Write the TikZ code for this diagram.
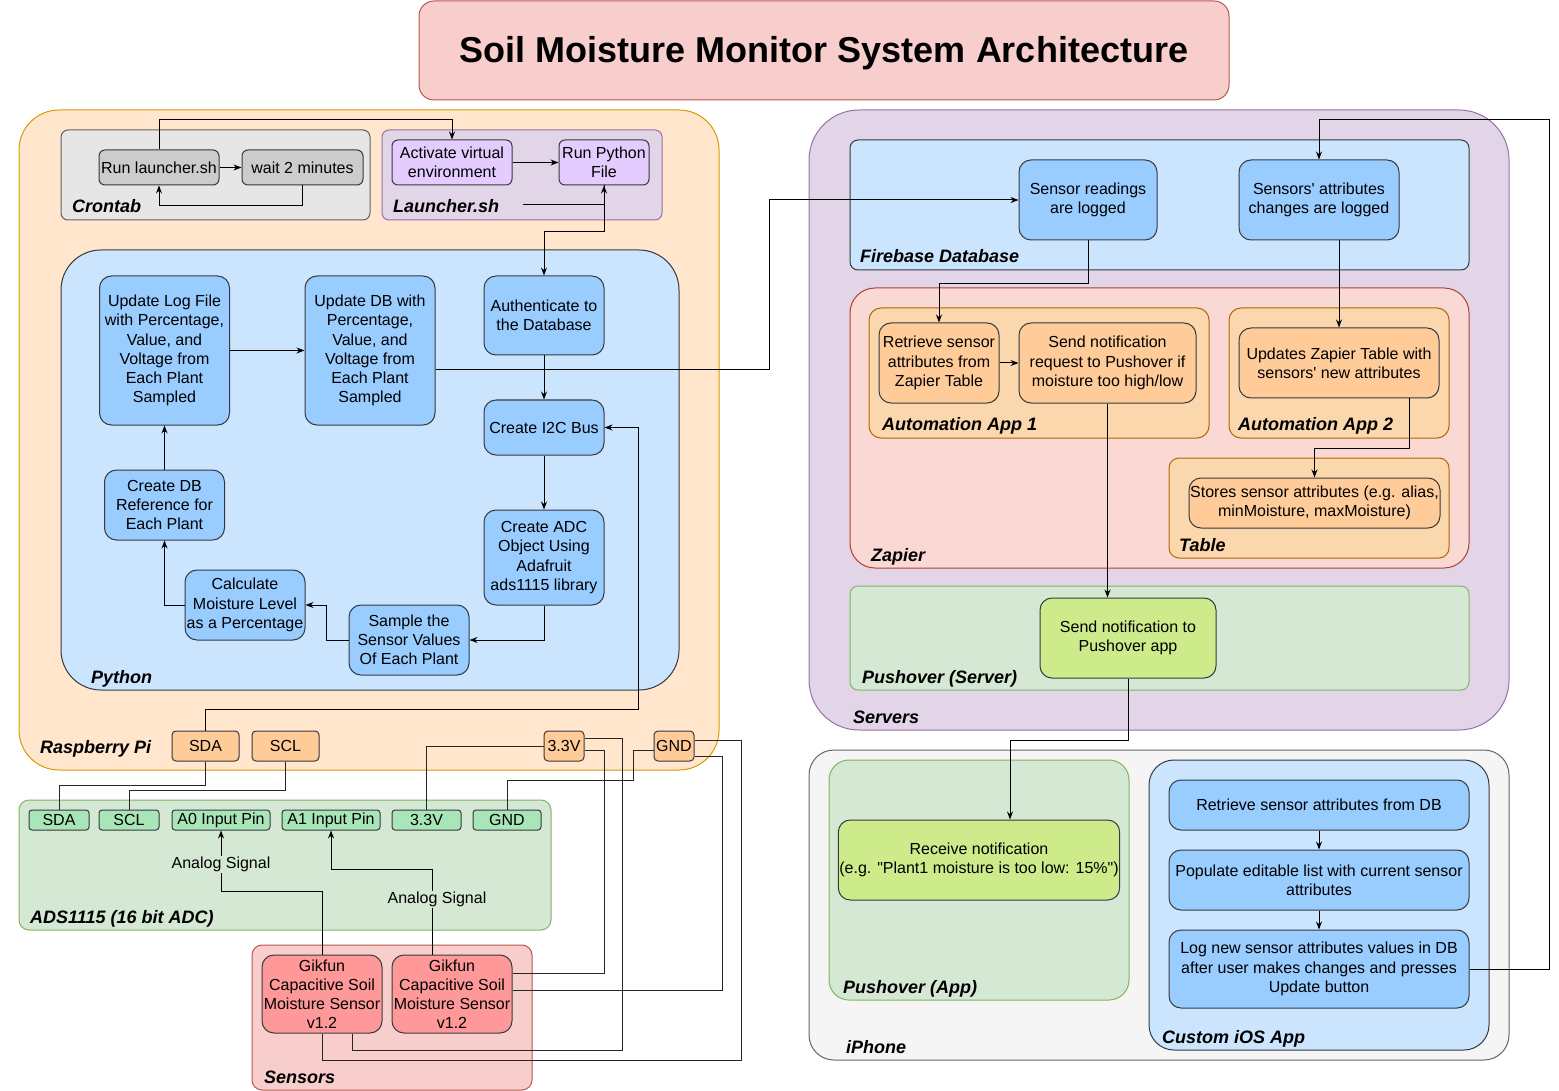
\documentclass[tikz,border=0pt]{standalone}
\usepackage{fontspec}
\setmainfont{Liberation Sans}[Ligatures=TeXOff]
\usetikzlibrary{arrows.meta}

\definecolor{cTitleFill}{HTML}{F8CECC}
\definecolor{cTitleLine}{HTML}{B85450}
\definecolor{cRpiFill}{HTML}{FFE6CC}
\definecolor{cRpiLine}{HTML}{D79B00}
\definecolor{cCronFill}{HTML}{E6E6E6}
\definecolor{cCronNode}{HTML}{CCCCCC}
\definecolor{cLnchFill}{HTML}{E1D5E7}
\definecolor{cLnchLine}{HTML}{9673A6}
\definecolor{cLnchNode}{HTML}{E5CCFF}
\definecolor{cBlueFill}{HTML}{CCE5FF}
\definecolor{cBlueNode}{HTML}{99CCFF}
\definecolor{cDark}{HTML}{36393D}
\definecolor{cPin}{HTML}{FFCC99}
\definecolor{cGreenFill}{HTML}{D5E8D4}
\definecolor{cGreenLine}{HTML}{82B366}
\definecolor{cAdsPin}{HTML}{A8E6B8}
\definecolor{cSensNode}{HTML}{FF9999}
\definecolor{cZapFill}{HTML}{FAD9D5}
\definecolor{cZapLine}{HTML}{AE4132}
\definecolor{cAutoFill}{HTML}{FAD7AC}
\definecolor{cAutoLine}{HTML}{B46504}
\definecolor{cPushNode}{HTML}{CDEB8B}
\definecolor{cPhoneFill}{HTML}{F5F5F5}
\definecolor{cPhoneLine}{HTML}{666666}

\newcommand\bodyfnt{\fontsize{16}{19.2}\selectfont}
\newcommand\lblfnt{\fontsize{18}{21.6}\selectfont\bfseries\itshape}

\tikzset{
  sz/.style 2 args={minimum width=#1pt,minimum height=#2pt},
  box/.style={draw=cDark,line width=1pt,rounded corners=12pt,align=center,inner sep=1pt,font=\bodyfnt},
  cronnode/.style={box,fill=cCronNode,rounded corners=6pt},
  lnchnode/.style={box,fill=cLnchNode,rounded corners=6pt},
  pynode/.style={box,fill=cBlueNode},
  pin/.style={box,fill=cPin,rounded corners=4pt},
  adspin/.style={box,fill=cAdsPin,rounded corners=3pt},
  sensnode/.style={box,fill=cSensNode},
  zapnode/.style={box,fill=cPin},
  pushnode/.style={box,fill=cPushNode},
  grp/.style={line width=1pt},
  grplabel/.style={anchor=base west,inner sep=0pt,yshift=-2pt,font=\lblfnt},
  siglabel/.style={fill=cGreenFill,inner sep=1pt,font=\bodyfnt},
  flow/.style={line width=1pt,-{Stealth[length=8pt,width=6pt]}},
  wire/.style={line width=1pt,draw=black!85}
}

\begin{document}
\begin{tikzpicture}[x=1pt,y=-1pt]
\useasboundingbox (0,0) rectangle (1559,1091);

\node[box,fill=cTitleFill,draw=cTitleLine,rounded corners=15pt,sz={810}{99}] (title) at (824,50.5) {};
\node[inner sep=0pt,font=\fontsize{36}{40}\selectfont\bfseries] (titletext) at ([yshift=-3pt]title.center) {Soil Moisture Monitor System Architecture};

% raspberry pi side
\draw[grp,fill=cRpiFill,draw=cRpiLine,rounded corners=40pt] (19,110) rectangle (719,770);
\node[grplabel] (lblrpi) at (40,751) {Raspberry Pi};

\draw[grp,fill=cCronFill,draw=cDark!80,rounded corners=7pt] (61,130) rectangle (370,220);
\node[grplabel] (lblcron) at (72,211) {Crontab};
\node[cronnode,sz={120}{35}] (runsh) at (159,167.5) {Run launcher.sh};
\node[cronnode,sz={121}{35}] (wait) at (302.5,167.5) {wait 2 minutes};

\draw[grp,fill=cLnchFill,draw=cLnchLine,rounded corners=7pt] (382,130) rectangle (662,220);
\node[grplabel] (lbllnch) at (393,211) {Launcher.sh};
\node[lnchnode,sz={120}{45}] (activate) at (452,162.5) {Activate virtual\\environment};
\node[lnchnode,sz={90}{45}] (runpy) at (604,162.5) {Run Python\\File};
\coordinate (lnchend) at (523,205);

\draw[grp,fill=cBlueFill,draw=cDark,rounded corners=40pt] (61,250) rectangle (679,690);
\node[grplabel] (lblpy) at (91,681) {Python};
\node[pynode,sz={130}{149}] (updlog) at (164.5,350.5) {Update Log File\\with Percentage,\\Value, and\\Voltage from\\Each Plant\\Sampled};
\node[pynode,sz={130}{149}] (upddb) at (370,350.5) {Update DB with\\Percentage,\\Value, and\\Voltage from\\Each Plant\\Sampled};
\node[pynode,sz={120}{79}] (auth) at (544,315.5) {Authenticate to\\the Database};
\node[pynode,sz={120}{55}] (i2c) at (544,427.5) {Create I2C Bus};
\node[pynode,sz={120}{95}] (adc) at (544,557.5) {Create ADC\\Object Using\\Adafruit\\ads1115 library};
\node[pynode,sz={120}{70}] (sample) at (409,640) {Sample the\\Sensor Values\\Of Each Plant};
\node[pynode,sz={120}{70}] (calc) at (245,605) {Calculate\\Moisture Level\\as a Percentage};
\node[pynode,sz={120}{70}] (dbref) at (164.5,505) {Create DB\\Reference for\\Each Plant};

\node[pin,sz={67}{30}] (rpisda) at (205.5,746) {SDA};
\node[pin,sz={67}{30}] (rpiscl) at (285.5,746) {SCL};
\node[pin,sz={40}{30}] (rpi33) at (564,746) {3.3V};
\node[pin,sz={40}{30}] (rpignd) at (674,746) {GND};

% adc board and sensors
\draw[grp,fill=cGreenFill,draw=cGreenLine,rounded corners=10pt] (19,800) rectangle (551,930);
\node[grplabel] (lblads) at (30,921) {ADS1115 (16 bit ADC)};
\node[adspin,sz={60}{20}] (adssda) at (59,820) {SDA};
\node[adspin,sz={60}{20}] (adsscl) at (129,820) {SCL};
\node[adspin,sz={98}{20}] (adsa0) at (221,820) {A0 Input Pin};
\node[adspin,sz={98}{20}] (adsa1) at (331,820) {A1 Input Pin};
\node[adspin,sz={69}{20}] (ads33) at (426.5,820) {3.3V};
\node[adspin,sz={68}{20}] (adsgnd) at (507,820) {GND};

\draw[grp,fill=cTitleFill,draw=cTitleLine,rounded corners=10pt] (252,945) rectangle (532,1090);
\node[grplabel] (lblsens) at (264,1081) {Sensors};
\node[sensnode,sz={120}{78}] (sens1) at (322,994) {Gikfun\\Capacitive Soil\\Moisture Sensor\\v1.2};
\node[sensnode,sz={120}{78}] (sens2) at (452,994) {Gikfun\\Capacitive Soil\\Moisture Sensor\\v1.2};

% servers side
\draw[grp,fill=cLnchFill,draw=cLnchLine,rounded corners=50pt] (809,110) rectangle (1509,730);
\node[grplabel] (lblsrv) at (853,721) {Servers};

\draw[grp,fill=cBlueFill,draw=cDark,rounded corners=8pt] (850,140) rectangle (1469,270);
\node[grplabel] (lblfb) at (860,261) {Firebase Database};
\node[pynode,sz={138}{80}] (readings) at (1088,200) {Sensor readings\\are logged};
\node[pynode,sz={160}{80}] (attrs) at (1319,200) {Sensors' attributes\\changes are logged};

\draw[grp,fill=cZapFill,draw=cZapLine,rounded corners=25pt] (850,288) rectangle (1469,568);
\node[grplabel] (lblzap) at (871,559) {Zapier};
\draw[grp,fill=cAutoFill,draw=cAutoLine,rounded corners=12pt] (869,308) rectangle (1209,438);
\node[grplabel] (lblapp1) at (882,429) {Automation App 1};
\node[zapnode,sz={120}{80}] (retrieve) at (939,363) {Retrieve sensor\\attributes from\\Zapier Table};
\node[zapnode,sz={177}{80}] (sendreq) at (1107.5,363) {Send notification\\request to Pushover if\\moisture too high/low};
\draw[grp,fill=cAutoFill,draw=cAutoLine,rounded corners=12pt] (1229,308) rectangle (1449,438);
\node[grplabel] (lblapp2) at (1238,429) {Automation App 2};
\node[zapnode,sz={200}{70}] (updzap) at (1339,363) {Updates Zapier Table with\\sensors' new attributes};
\draw[grp,fill=cAutoFill,draw=cAutoLine,rounded corners=10pt] (1169,458) rectangle (1449,558);
\node[grplabel] (lbltable) at (1179,549) {Table};
\node[zapnode,sz={251}{50}] (stores) at (1314.5,503) {Stores sensor attributes (e.g. alias,\\minMoisture, maxMoisture)};

\draw[grp,fill=cGreenFill,draw=cGreenLine,rounded corners=8pt] (850,586) rectangle (1469,690);
\node[grplabel] (lblpushsrv) at (862,681) {Pushover (Server)};
\node[pushnode,sz={176}{80}] (sendpush) at (1128,638) {Send notification to\\Pushover app};

% iphone
\draw[grp,fill=cPhoneFill,draw=cPhoneLine,rounded corners=25pt] (809,750) rectangle (1509,1060);
\node[grplabel] (lblphone) at (846,1051) {iPhone};
\draw[grp,fill=cGreenFill,draw=cGreenLine,rounded corners=20pt] (829,760) rectangle (1129,1000);
\node[grplabel] (lblpushapp) at (843,991) {Pushover (App)};
\node[pushnode,sz={280}{80}] (receive) at (979,860) {Receive notification\\(e.g. "Plant1 moisture is too low: 15\%")};
\draw[grp,fill=cBlueFill,draw=cDark,rounded corners=25pt] (1149,760) rectangle (1489,1050);
\node[grplabel] (lblios) at (1162,1041) {Custom iOS App};
\node[pynode,sz={300}{50}] (retrdb) at (1319,805) {Retrieve sensor attributes from DB};
\node[pynode,sz={300}{60}] (populate) at (1319,880) {Populate editable list with current sensor\\attributes};
\node[pynode,sz={300}{78}] (lognew) at (1319,969) {Log new sensor attributes values in DB\\after user makes changes and presses\\Update button};

% connectors
\draw[flow] (runsh) -- (wait);
\draw[flow] (wait.south) -- ++(0,20) -| (runsh.south);
\draw[flow] (runsh.north) -- ++(0,-30) -| (activate.north);
\draw[flow] (activate) -- (runpy);
\draw[flow] (lnchend) -| (runpy.south);
\draw[flow] (runpy.south) -- ++(0,46) -| (auth.north);

\draw[flow] (updlog) -- (upddb);
\draw[flow] (auth) -- (i2c);
\draw[flow] (i2c) -- (adc);
\draw[flow] (adc.south) |- (sample.east);
\draw[flow] (sample.west) -- ++(-22,0) |- (calc.east);
\draw[flow] (calc.west) -| (dbref.south);
\draw[flow] (dbref) -- (updlog);
\draw[flow] ([yshift=-19.5pt]upddb.east) -- ++(334,0) |- (readings.west);
\draw[flow] (rpisda.north) -- ++(0,-21) -| ++(433,0) |- (i2c.east);

\draw[wire] (rpisda.south) -- ++(0,24) -| (adssda.north);
\draw[wire] (rpiscl.south) -- ++(0,29) -| (adsscl.north);
\draw[wire] (rpi33.west) -| (ads33.north);
\draw[wire] ([yshift=-4pt]rpignd.west) -- ++(-20,0) -- ++(0,30) -| (adsgnd.north);
\draw[wire] ([yshift=8pt]rpi33.east) -- ++(38,0) -- ++(0,312) -| ([xshift=30pt]sens1.south);
\draw[wire] ([yshift=-4pt]rpi33.east) -- ++(20,0) |- ([yshift=21pt]sens2.east);
\draw[wire] ([yshift=6pt]rpignd.east) -- ++(47,0) -- ++(0,320) -| (sens1.south);
\draw[wire] ([yshift=-10pt]rpignd.east) -- ++(28,0) |- ([yshift=4pt]sens2.east);

\draw[flow] (sens1.north) -- ++(0,-63) -| node[pos=0.72,siglabel] {Analog Signal} (adsa0.south);
\draw[flow] ([xshift=-20pt]sens2.north) -- node[pos=0.65,siglabel,xshift=5pt] {Analog Signal} ++(0,-85) -| (adsa1.south);

\draw[flow] (readings.south) -- ++(0,43) -| (retrieve.north);
\draw[flow] ([xshift=20pt]attrs.south) -- (updzap.north);
\draw[flow] (retrieve) -- (sendreq);
\draw[flow] ([xshift=70pt]updzap.south) -- ++(0,50) -| (stores.north);
\draw[flow] (sendreq.south) -- (sendreq.south |- sendpush.north);
\draw[flow] (sendpush.south) -- ++(0,62) -| ([xshift=31pt]receive.north);
\draw[flow] (retrdb) -- (populate);
\draw[flow] (populate) -- (lognew);
\draw[flow] (lognew.east) -- ++(80,0) -- ++(0,-849) -| (attrs.north);
\end{tikzpicture}
\end{document}
